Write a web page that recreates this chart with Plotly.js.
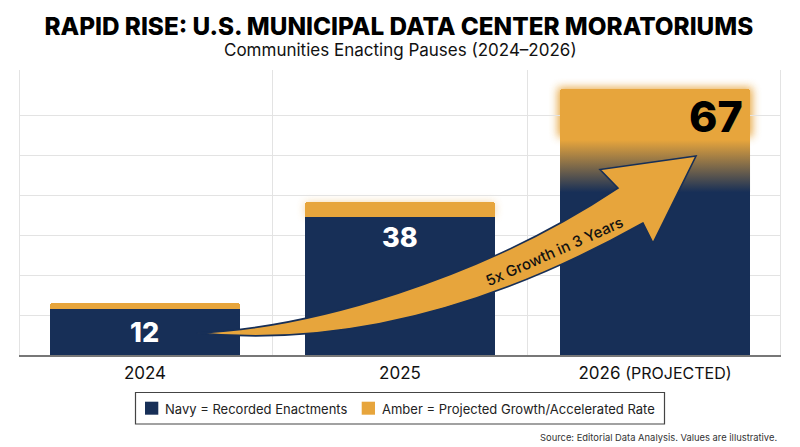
<!DOCTYPE html>
<html><head><meta charset="utf-8">
<script src="https://cdn.plot.ly/plotly-3.0.1.min.js"></script>
<style>html,body{margin:0;padding:0;background:#fff}</style></head>
<body><div id="chart" style="width:800px;height:447px"></div>
<script>
const categories = ["2024", "2025", "2026"];
const tickLabels = ["2024", "2025", '2026 <span style="font-size:16px">(PROJECTED)</span>'];
const labelValues = [12, 38, 67];
const navyValues = [11.5, 34.6, 41];
const amberValues = [1.5, 3.6, 25.5];
const legendLabels = ["Navy = Recorded Enactments", "Amber = Projected Growth/Accelerated Rate"];
const NAVY = "#172f57", AMBER = "#e7a53c", GRID = "#e3e3e3", FONT = "Inter, sans-serif";

const positions = [0, 1, 2];
const barWidth = 0.745;
const L = 20, T = 70, W = 760, H = 285;
const yMax = 71.25, xMin = -0.49, xMax = 2.49;
const totals = navyValues.map((v, i) => v + amberValues[i]);
const dx = p => xMin + (p - L) / W * (xMax - xMin);
const dy = p => (T + H - p) / H * yMax;
const px = p => (p - L) / W;
const py = p => (T + H - p) / H;
const pt = (x, y) => dx(x) + "," + dy(y);

const arrowPath = "M" + pt(197, 333) +
  " C" + pt(310, 328) + " " + pt(480, 280) + " " + pt(618, 188) +
  " L" + pt(600, 169.5) + " L" + pt(696, 156) + " L" + pt(653, 243) + " L" + pt(643, 223) +
  " C" + pt(470, 320) + " " + pt(320, 345) + " " + pt(197, 333) + " Z";

const gradLow = navyValues[2] - 0.3, gradHigh = totals[2] - 12.75;
const edgeL = positions[2] - barWidth / 2, edgeR = positions[2] + barWidth / 2;

const traces = [
  { type: "bar", name: "Recorded Enactments", x: positions, y: navyValues, width: barWidth,
    marker: { color: NAVY }, hoverinfo: "skip" },
  { type: "bar", name: "Projected Growth 2024", x: positions.slice(0, 1), y: amberValues.slice(0, 1), width: barWidth,
    marker: { color: AMBER, cornerradius: 3 }, hoverinfo: "skip" },
  { type: "bar", name: "Projected Growth", x: positions.slice(1), y: amberValues.slice(1), width: barWidth,
    marker: { color: AMBER }, hoverinfo: "skip" },
  { type: "scatter", mode: "lines", x: [edgeL, edgeR, edgeR, edgeL, edgeL],
    y: [gradLow, gradLow, gradHigh, gradHigh, gradLow], fill: "toself", line: { width: 0 },
    fillgradient: { type: "vertical", colorscale: [[0, NAVY], [1, AMBER]] }, hoverinfo: "skip" }
];

const rect = (x0, y0, x1, y1, extra) => Object.assign(
  { type: "rect", xref: "paper", yref: "paper", x0: px(x0), x1: px(x1), y0: py(y0), y1: py(y1) }, extra);

const glow = (i, low, pad, opacity) => ({ type: "rect", layer: "below", xref: "x", yref: "y",
  x0: positions[i] - barWidth / 2 - pad * 0.006, x1: positions[i] + barWidth / 2 + pad * 0.006, y0: low, y1: totals[i] + pad * 0.25,
  fillcolor: AMBER, opacity, line: { width: 0 } });

const shapes = [
  glow(2, totals[2] - 12, 1.5, 0.95), glow(1, navyValues[1], 0, 0.45),
  { type: "path", xref: "x", yref: "y", path: arrowPath, fillcolor: AMBER, line: { color: NAVY, width: 1.6 } },
  rect(135.5, 392.5, 664.5, 424, { fillcolor: "rgba(0,0,0,0)", line: { color: "#444", width: 1.2 } }),
  rect(145, 401.7, 158.3, 414.7, { fillcolor: NAVY, line: { width: 0 } }),
  rect(361.7, 401.7, 375, 414.7, { fillcolor: AMBER, line: { width: 0 } })
];

const ann = (text, x, y, size, color, weight, extra) => Object.assign({
  text, xref: "paper", yref: "paper", x: px(x), y: py(y), showarrow: false, xanchor: "center", yanchor: "middle",
  font: { family: FONT, size, color, weight } }, extra || {});

const annotations = [
  { text: String(labelValues[0]), x: positions[0], y: dy(332), xref: "x", yref: "y", showarrow: false,
    font: { family: FONT, size: 27, color: "#fff", weight: 800 } },
  { text: String(labelValues[1]), x: positions[1], y: dy(237), xref: "x", yref: "y", showarrow: false,
    font: { family: FONT, size: 27, color: "#fff", weight: 800 } },
  { text: String(labelValues[2]), x: dx(716), y: dy(116), xref: "x", yref: "y", showarrow: false,
    font: { family: FONT, size: 43, color: "#000", weight: 800 } },
  ann("Communities Enacting Pauses (2024–2026)", 400, 50, 17, "#111", 400),
  ann("5x Growth in 3 Years", 554, 251, 15, "#111", 500, { textangle: -24 }),
  ann(legendLabels[0], 163, 408.5, 13, "#222", 400, { xanchor: "left" }),
  ann(legendLabels[1], 380, 408.5, 13, "#222", 400, { xanchor: "left" }),
  ann("Source: Editorial Data Analysis. Values are illustrative.", 779, 437, 9.4, "#333", 400, { xanchor: "right" })
];

const layout = {
  width: 800, height: 447, barmode: "stack", showlegend: false,
  paper_bgcolor: "#fff", plot_bgcolor: "#fff",
  margin: { l: L, r: 800 - L - W, t: T, b: 447 - T - H, pad: 0 },
  title: { text: "RAPID RISE: U.S. MUNICIPAL DATA CENTER MORATORIUMS",
    font: { family: FONT, size: 24.3, color: "#000", weight: 800 },
    x: 0.4985, xanchor: "center", y: 0.94, yanchor: "middle" },
  xaxis: { range: [xMin, xMax], tickvals: positions, ticktext: tickLabels, showgrid: false, zeroline: false,
    showline: true, linecolor: "#777", linewidth: 2, ticks: "", ticklabelstandoff: 2,
    tickfont: { family: FONT, size: 17, color: "#111" },
    minor: { tickvals: [0.5, 1.5], showgrid: true, gridcolor: GRID, gridwidth: 1, ticks: "" }, layer: "below traces" },
  yaxis: { range: [0, yMax], tickvals: [10, 20, 30, 40, 50, 60, 71.2], showticklabels: false, ticks: "",
    gridcolor: GRID, gridwidth: 1, zeroline: false, showline: true, mirror: true, linecolor: GRID, linewidth: 1 },
  shapes, annotations
};

Plotly.newPlot("chart", traces, layout, { displayModeBar: false, staticPlot: true }).then(gd => {
  const below = gd.querySelectorAll(".layer-subplot .shapelayer path");
  below.forEach(p => { p.style.filter = "blur(4px)"; p.removeAttribute("clip-path"); });
});
</script></body></html>
